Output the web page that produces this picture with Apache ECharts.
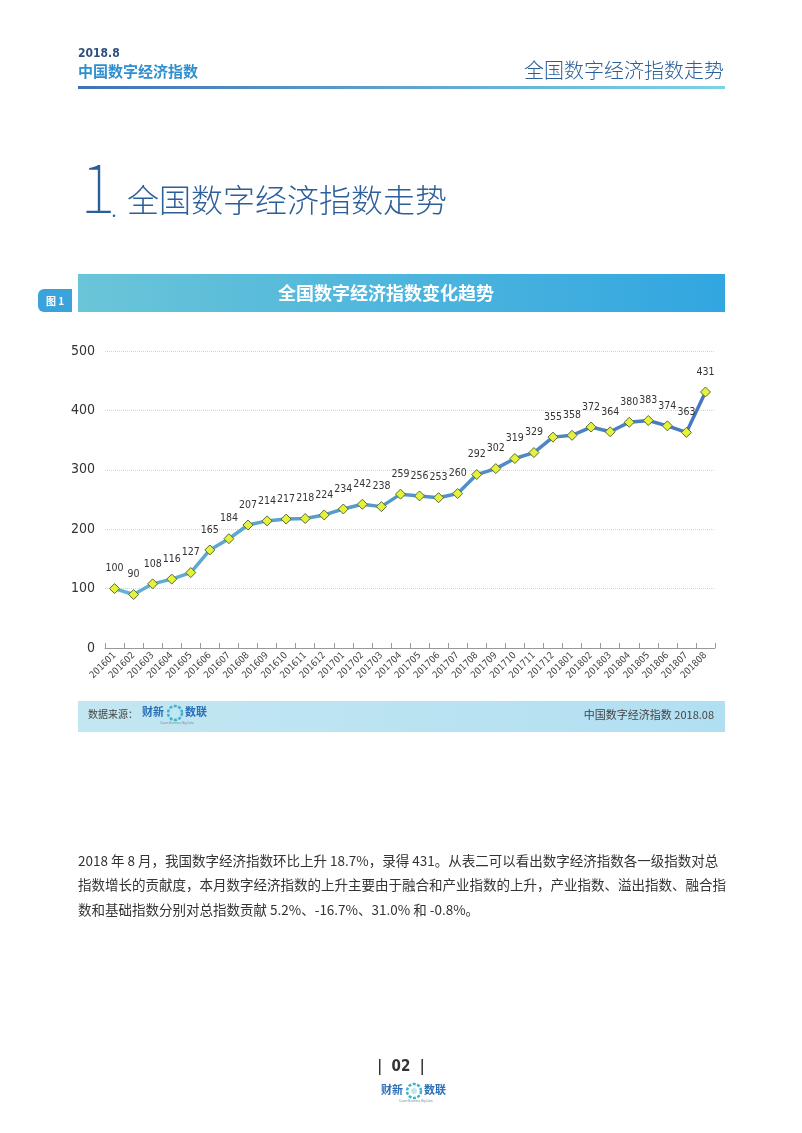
<!DOCTYPE html>
<html>
<head>
<meta charset="utf-8">
<script src="https://cdn.jsdelivr.net/npm/echarts@6/dist/echarts.min.js"></script>
<style>
  html, body { margin: 0; padding: 0; background: #fff; }
  #page { width: 802px; height: 1133px; }
</style>
</head>
<body>
<div id="page"></div>
<script>
  // 数据
  var months = ['201601','201602','201603','201604','201605','201606','201607','201608','201609','201610','201611','201612',
    '201701','201702','201703','201704','201705','201706','201707','201708','201709','201710','201711','201712',
    '201801','201802','201803','201804','201805','201806','201807','201808'];
  var indexValues = [100, 90, 108, 116, 127, 165, 184, 207, 214, 217, 218, 224,
    234, 242, 238, 259, 256, 253, 260, 292, 302, 319, 329, 355,
    358, 372, 364, 380, 383, 374, 363, 431];
  var yMin = 0, yMax = 500, yStep = 100;

  var cjk = '"Noto Sans CJK SC", sans-serif';
  var num = '"DejaVu Sans Condensed", "Roboto", sans-serif';
  var para = [
    '2018 年 8 月，我国数字经济指数环比上升 18.7%，录得 431。从表二可以看出数字经济指数各一级指数对总',
    '指数增长的贡献度，本月数字经济指数的上升主要由于融合和产业指数的上升，产业指数、溢出指数、融合指',
    '数和基础指数分别对总指数贡献 5.2%、-16.7%、31.0% 和 -0.8%。'
  ];

  var chart = echarts.init(document.getElementById('page'), null, { renderer: 'canvas' });

  // 小logo：财新 + 圆环 + 数联
  function logo(x, y, s) {
    return [
      { type: 'text', left: x, top: y, style: { text: '财新', fill: '#2a6fb8', font: 'bold ' + (11 * s) + 'px ' + cjk } },
      { type: 'circle', shape: { cx: x + 33 * s, cy: y + 7 * s, r: 7 * s }, style: { fill: 'none', stroke: '#3fb3c9', lineWidth: 2.5 * s, lineDash: [3 * s, 1.5 * s] } },
      { type: 'circle', shape: { cx: x + 33 * s, cy: y + 7 * s, r: 3 * s }, style: { fill: '#bfe8f0' } },
      { type: 'text', left: x + 43 * s, top: y, style: { text: '数联', fill: '#2a6fb8', font: 'bold ' + (11 * s) + 'px ' + cjk } },
      { type: 'text', left: x + 18 * s, top: y + 16 * s, style: { text: 'Caixin Business Big Data', fill: '#7a8fa8', font: (3 * s) + 'px sans-serif' } }
    ];
  }

  var graphics = [
    // 页眉
    { type: 'text', left: 78, top: 48, style: { text: '2018.8', fill: '#2f4f80', font: 'bold 12px ' + num } },
    { type: 'text', left: 78, top: 64, style: { text: '中国数字经济指数', fill: '#2f8fd0', font: 'bold 15px ' + cjk } },
    { type: 'text', right: 78, top: 60, style: { text: '全国数字经济指数走势', fill: '#2b5f99', font: '300 20px ' + cjk } },
    { type: 'rect', shape: { x: 78, y: 86, width: 647, height: 3 },
      style: { fill: new echarts.graphic.LinearGradient(0, 0, 1, 0, [{ offset: 0, color: '#3f73b4' }, { offset: 1, color: '#7fd2e6' }]) } },
    // 大标题
    { type: 'text', left: 80, top: 153, style: { text: '1', fill: '#2b5f99', font: '100 68px ' + cjk } },
    { type: 'text', left: 111, top: 196, style: { text: '.', fill: '#2b5f99', font: '300 24px ' + cjk } },
    { type: 'text', left: 127, top: 184, style: { text: '全国数字经济指数走势', fill: '#2b5f99', font: '300 32px ' + cjk } },
    // 图标题条
    { type: 'rect', shape: { x: 38, y: 289, width: 34, height: 23, r: [6, 0, 0, 6] }, style: { fill: '#3aa3dc' } },
    { type: 'text', x: 55, y: 301, style: { text: '图 1', fill: '#fff', font: 'bold 10px ' + cjk, align: 'center', verticalAlign: 'middle' } },
    { type: 'rect', shape: { x: 78, y: 274, width: 647, height: 38 },
      style: { fill: new echarts.graphic.LinearGradient(0, 0, 1, 0, [{ offset: 0, color: '#6ac5d8' }, { offset: 1, color: '#32a6e1' }]) } },
    { type: 'text', x: 386, y: 293, style: { text: '全国数字经济指数变化趋势', fill: '#fff', font: 'bold 18px ' + cjk, align: 'center', verticalAlign: 'middle' } },
    // 数据来源条
    { type: 'rect', shape: { x: 78, y: 701, width: 647, height: 31 },
      style: { fill: new echarts.graphic.LinearGradient(0, 0, 1, 0, [{ offset: 0, color: '#c3e7f1' }, { offset: 1, color: '#b1dff2' }]) } },
    { type: 'text', left: 88, top: 709, style: { text: '数据来源：', fill: '#444', font: '10px ' + cjk } },
    { type: 'text', right: 78 + 10, top: 709, style: { text: '中国数字经济指数 2018.08', fill: '#444', font: '11px ' + cjk } },
    // 页脚
    { type: 'text', x: 401, y: 1067, style: { text: '|  02  |', fill: '#333', font: 'bold 15px ' + num, align: 'center', verticalAlign: 'middle' } }
  ];
  graphics = graphics.concat(logo(142, 706, 1));
  graphics = graphics.concat(logo(381, 1084, 1));
  para.forEach(function (line, i) {
    graphics.push({ type: 'text', left: 78, top: 854 + i * 24.5, style: { text: line, fill: '#333', font: '13.5px ' + cjk } });
  });

  var option = {
    animation: false,
    backgroundColor: '#fff',
    grid: { left: 105, right: 87, top: 351, bottom: 485, containLabel: false },
    xAxis: {
      type: 'category',
      data: months,
      boundaryGap: true,
      axisLine: { lineStyle: { color: '#999', width: 1 } },
      axisTick: { show: true, inside: true, length: 5, alignWithLabel: false, lineStyle: { color: '#999' } },
      axisLabel: { rotate: 45, interval: 0, fontSize: 9.5, color: '#444', fontFamily: num, margin: 6 }
    },
    yAxis: {
      type: 'value',
      min: yMin, max: yMax, interval: yStep,
      axisLine: { show: false },
      axisTick: { show: false },
      axisLabel: { fontSize: 14, color: '#333', fontFamily: num, margin: 10 },
      splitLine: { lineStyle: { color: '#d4d4d4', type: 'dotted', width: 1 } }
    },
    series: [{
      type: 'line',
      data: indexValues,
      symbol: 'diamond',
      symbolSize: 10,
      lineStyle: {
        width: 3.5,
        color: new echarts.graphic.LinearGradient(0, 0, 1, 0, [{ offset: 0, color: '#62b3d4' }, { offset: 1, color: '#4776be' }])
      },
      itemStyle: { color: '#e4f23c', borderColor: '#5a6a3a', borderWidth: 1 },
      label: { show: true, position: 'top', distance: 9, fontSize: 10.5, color: '#333', fontFamily: num }
    }],
    graphic: graphics
  };
  chart.setOption(option);
</script>
</body>
</html>
